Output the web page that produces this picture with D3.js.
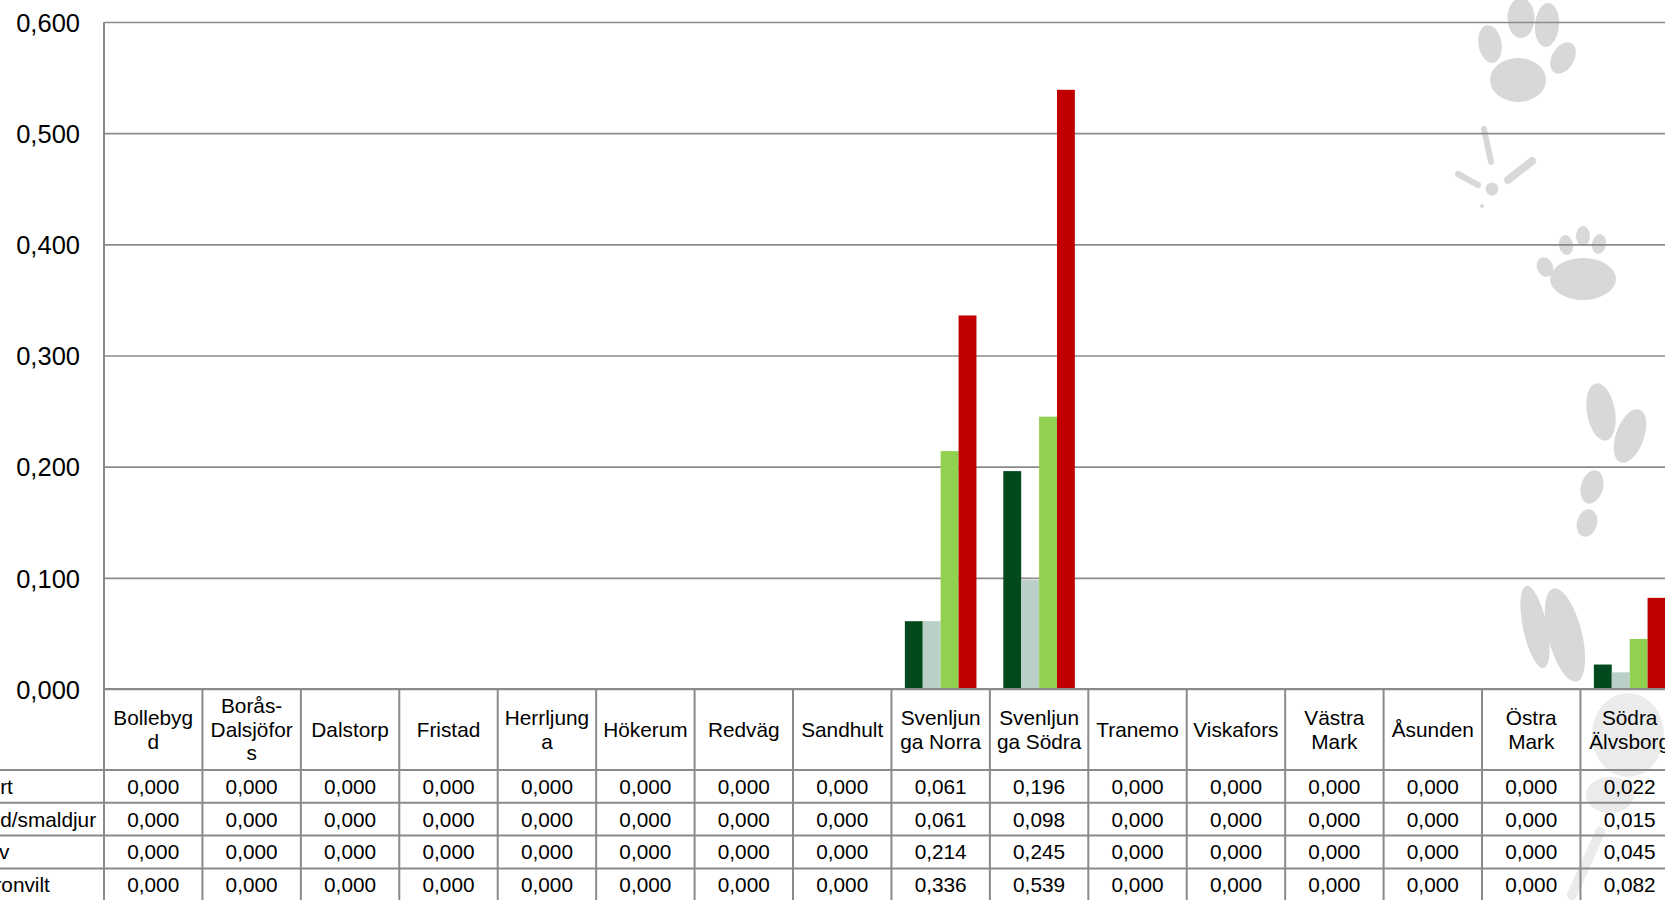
<!DOCTYPE html>
<html>
<head>
<meta charset="utf-8">
<script src="https://cdn.jsdelivr.net/npm/d3@7"></script>
<style>
  html, body { margin: 0; padding: 0; background: #ffffff; overflow: hidden; }
  svg { display: block; font-family: "Liberation Sans", Arial, sans-serif; }
</style>
</head>
<body>
<svg id="chart" width="1665" height="900"></svg>
<script>
// ---------- data ----------
const categories = ["Bollebygd", "Borås-Dalsjöfors", "Dalstorp", "Fristad", "Herrljunga", "Hökerum",
  "Redväg", "Sandhult", "Svenljunga Norra", "Svenljunga Södra", "Tranemo", "Viskafors",
  "Västra Mark", "Åsunden", "Östra Mark", "Södra Älvsborg"];
const seriesNames = ["Kronhjort", "Kronhind/smaldjur", "Kronkalv", "Totalt kronvilt"];
const hjort  = [0, 0, 0, 0, 0, 0, 0, 0, 0.061, 0.196, 0, 0, 0, 0, 0, 0.022];
const hind   = [0, 0, 0, 0, 0, 0, 0, 0, 0.061, 0.098, 0, 0, 0, 0, 0, 0.015];
const kalv   = [0, 0, 0, 0, 0, 0, 0, 0, 0.214, 0.245, 0, 0, 0, 0, 0, 0.045];
const totalt = [0, 0, 0, 0, 0, 0, 0, 0, 0.336, 0.539, 0, 0, 0, 0, 0, 0.082];
const yTicks = [0, 0.1, 0.2, 0.3, 0.4, 0.5, 0.6];
const seriesValues = [hjort, hind, kalv, totalt];
const colors = ["#02491d", "#b9cfc7", "#92d050", "#c00000"];

// ---------- layout ----------
const svg = d3.select("#chart");
const plotLeft = 104, plotTop = 22, zeroY = 689;
const colW = 98.43;
const plotRight = plotLeft + colW * categories.length;
const headerBottom = 770, rowH = 32.8;
const fontSize = 20.8;
const tickFontSize = 25.5;
const gridColor = "#8a8a8a";

const locale = d3.formatLocale({ decimal: ",", thousands: " ", grouping: [3], currency: ["", " kr"] });
const fmt = locale.format(".3f");

const x = d3.scaleBand().domain(categories).range([plotLeft, plotRight]).paddingInner(0).paddingOuter(0);
const xInner = d3.scaleBand().domain(seriesNames).range([0, x.bandwidth()]).paddingInner(0).paddingOuter(0.75);
const y = d3.scaleLinear().domain([0, 0.6]).range([zeroY, plotTop]);

// ---------- decorative watermark (animal tracks) ----------
const wm = svg.append("g").attr("fill", "#d8d8d8");
const ell = [
  [1490, 44, 11.5, 19, -10], [1521, 18, 13.5, 20, 0], [1547, 25, 12, 22, 5], [1563, 58, 11, 17, 30], [1518, 80, 28, 22, 0],
  [1545, 267, 8, 10, -20], [1566, 245, 7, 10, -10], [1583, 236, 7, 10, 0], [1599, 244, 7, 10, 10], [1583, 279, 33, 21, 0],
  [1601, 412, 14, 29, -10], [1630, 436, 14, 28, 20], [1592, 487, 11, 17, 15], [1587, 523, 10, 14, 15],
  [1535, 627, 12, 42, -12], [1565, 635, 17, 48, -14]
];
wm.selectAll("ellipse.w").data(ell).join("ellipse")
  .attr("cx", d => d[0]).attr("cy", d => d[1]).attr("rx", d => d[2]).attr("ry", d => d[3])
  .attr("transform", d => `rotate(${d[4]},${d[0]},${d[1]})`);
const birdLines = [[1484, 129, 1491, 162, 6], [1458, 174, 1478, 185, 6], [1532, 161, 1508, 180, 8]];
wm.selectAll("line.b").data(birdLines).join("line")
  .attr("x1", d => d[0]).attr("y1", d => d[1]).attr("x2", d => d[2]).attr("y2", d => d[3])
  .attr("stroke", "#d8d8d8").attr("stroke-width", d => d[4]).attr("stroke-linecap", "round");
wm.append("circle").attr("cx", 1492).attr("cy", 189).attr("r", 6.5);
wm.append("circle").attr("cx", 1482).attr("cy", 206).attr("r", 2);
const wm2 = svg.append("g").attr("fill", "#ebebeb");
wm2.append("ellipse").attr("cx", 1628).attr("cy", 735).attr("rx", 36).attr("ry", 42);
wm2.append("ellipse").attr("cx", 1610).attr("cy", 795).attr("rx", 24).attr("ry", 18);
wm2.append("line").attr("x1", 1572).attr("y1", 895).attr("x2", 1600).attr("y2", 832)
  .attr("stroke", "#ebebeb").attr("stroke-width", 10).attr("stroke-linecap", "round");

// ---------- y axis with gridlines ----------
const yAxis = d3.axisLeft(y).tickValues(yTicks).tickFormat(fmt)
  .tickSize(-(plotRight - plotLeft)).tickPadding(24);
const gy = svg.append("g").attr("transform", `translate(${plotLeft},0)`).call(yAxis);
gy.select(".domain").remove();
gy.selectAll(".tick line").attr("stroke", gridColor).attr("stroke-width", 1.7);
gy.selectAll(".tick text").attr("fill", "#000").attr("font-size", tickFontSize)
  .attr("font-family", "Liberation Sans, Arial, sans-serif").attr("dy", "0.36em");

// ---------- bars ----------
const groups = svg.append("g").selectAll("g").data(categories).join("g")
  .attr("transform", c => `translate(${x(c)},0)`);
groups.selectAll("rect").data((c, i) => seriesNames.map((s, k) => ({ s, k, v: seriesValues[k][i] })))
  .join("rect")
  .attr("x", d => xInner(d.s))
  .attr("width", xInner.bandwidth())
  .attr("y", d => y(d.v))
  .attr("height", d => y(0) - y(d.v))
  .attr("fill", d => colors[d.k]);

// ---------- data table ----------
const table = svg.append("g");
table.append("line").attr("x1", plotLeft).attr("x2", plotRight).attr("y1", zeroY).attr("y2", zeroY)
  .attr("stroke", gridColor).attr("stroke-width", 2);
const bounds = categories.map(c => x(c)).concat([plotRight]);
table.selectAll("line.v").data(bounds).join("line")
  .attr("x1", d => d).attr("x2", d => d)
  .attr("y1", (d, i) => i === 0 ? plotTop : zeroY).attr("y2", 905)
  .attr("stroke", gridColor).attr("stroke-width", 2);
const rowTops = seriesNames.map((s, k) => headerBottom + k * rowH);
table.selectAll("line.h").data(rowTops).join("line")
  .attr("x1", 0).attr("x2", plotRight).attr("y1", d => d).attr("y2", d => d)
  .attr("stroke", gridColor).attr("stroke-width", 2);

// header category labels with wrapping
const meas = document.createElement("canvas").getContext("2d");
meas.font = `${fontSize}px "Liberation Sans", Arial, sans-serif`;
const maxW = 88;
function wrap(label) {
  const lines = [];
  let cur = "";
  const tokens = [];
  const re = /([^ -]+-?)( ?)/g;
  let m;
  while ((m = re.exec(label)) !== null) tokens.push({ w: m[1], sp: m[2] });
  tokens.forEach((t, idx) => {
    const prev = idx > 0 ? tokens[idx - 1].sp : "";
    const cand = cur === "" ? t.w : cur + prev + t.w;
    if (meas.measureText(cand).width <= maxW) { cur = cand; return; }
    if (cur !== "" && meas.measureText(t.w).width <= maxW) { lines.push(cur); cur = t.w; return; }
    let word = t.w;
    if (cur !== "") { lines.push(cur); cur = ""; }
    while (meas.measureText(word).width > maxW) {
      let n = word.length;
      while (n > 1 && meas.measureText(word.slice(0, n)).width > maxW) n--;
      lines.push(word.slice(0, n));
      word = word.slice(n);
    }
    cur = word;
  });
  if (cur !== "") lines.push(cur);
  return lines;
}
const lineH = 23.5;
const headerMid = (zeroY + headerBottom) / 2;
categories.forEach(c => {
  const lines = wrap(c);
  const t = table.append("text").attr("text-anchor", "middle").attr("font-size", fontSize).attr("fill", "#000");
  lines.forEach((ln, j) => {
    t.append("tspan").attr("x", x(c) + x.bandwidth() / 2)
      .attr("y", headerMid + (j - (lines.length - 1) / 2) * lineH)
      .attr("dy", "0.36em").text(ln);
  });
});

// row labels (left, partly outside the view)
table.selectAll("text.rl").data(seriesNames).join("text")
  .attr("x", -71.5).attr("y", (d, k) => rowTops[k] + rowH / 2).attr("dy", "0.36em")
  .attr("font-size", fontSize).attr("fill", "#000").text(d => d);

// cell values
seriesNames.forEach((s, k) => {
  table.selectAll(null).data(categories).join("text")
    .attr("x", c => x(c) + x.bandwidth() / 2)
    .attr("y", rowTops[k] + rowH / 2).attr("dy", "0.36em")
    .attr("text-anchor", "middle").attr("font-size", fontSize).attr("fill", "#000")
    .text((c, i) => fmt(seriesValues[k][i]));
});
</script>
</body>
</html>
